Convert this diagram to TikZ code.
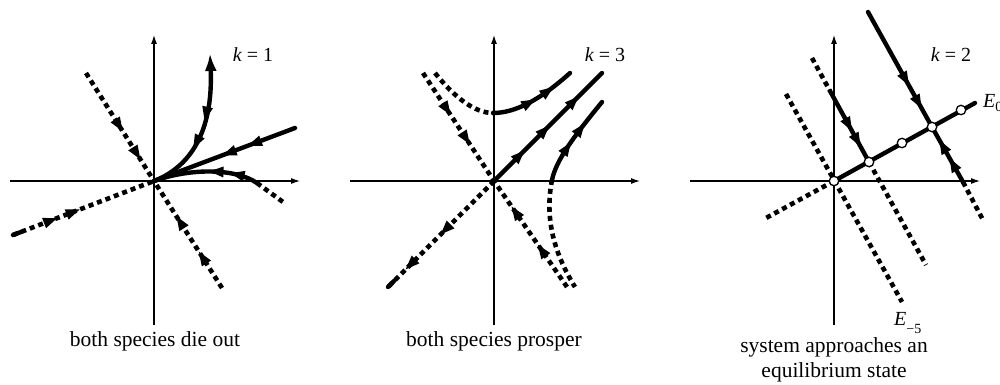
\documentclass[tikz,border=0pt]{standalone}
\usepackage{fontspec}
\setmainfont{Liberation Serif}
\usetikzlibrary{arrows.meta,decorations.markings}
\begin{document}
\begin{tikzpicture}[x=1pt,y=-1pt,
 axis/.style={line width=1.1pt,-{Latex[length=9pt,width=6pt]}},
 sol/.style={line width=4.4pt,line cap=round},
 dot/.style={line width=4.6pt,dash pattern=on 5pt off 4pt},
 ar/.style={postaction={decorate,decoration={markings,mark=at position #1 with {\fill (5pt,0pt) -- (-9pt,5.5pt) -- (-9pt,-5.5pt) -- cycle;}}}},
 eq/.style={circle,draw,fill=white,line width=1.3pt,inner sep=0pt,minimum size=9.5pt},
 lab/.style={font=\fontsize{20}{24}\selectfont,inner sep=0pt},
 captxt/.style={font=\fontsize{21.5}{24}\selectfont,inner sep=0pt,anchor=base},
]
\useasboundingbox (0,0) rectangle (1000,385);
% ---------- panel 1 ----------
\coordinate (O1) at (154,181);
\coordinate (a1) at (154,325); \coordinate (a2) at (154,35);
\coordinate (a3) at (10,181);  \coordinate (a4) at (300,181);
\draw[axis] (a1) -- (a2);
\draw[axis] (a3) -- (a4);
\draw[dot,ar=0.5,ar=0.76] (86,73) -- (O1);
\draw[dot,ar=0.3,ar=0.63] (222,288) -- (O1);
\draw[dot,ar=0.28,ar=0.44] (13,235) -- (O1);
\draw[sol] (13,235) -- (21,232);
\draw[sol,{Latex[length=18pt,width=12pt]}-,ar=0.42,ar=0.62] (210,53) .. controls (213,125) and (195,165) .. (O1);
\draw[sol,ar=0.3,ar=0.48] (295,128) -- (O1);
\draw[sol,ar=0.22,ar=0.42] (257,183) .. controls (235,168) and (190,168) .. (O1);
\draw[dot] (257,183) -- (283,202);
\node[lab] (k1) at (253,55) {\textit{k} = 1};
\node[captxt] (c1) at (155,346) {both species die out};
% ---------- panel 2 ----------
\coordinate (O2) at (494,181);
\coordinate (b1) at (494,325); \coordinate (b2) at (494,35);
\coordinate (b3) at (350,181); \coordinate (b4) at (640,181);
\draw[axis] (b1) -- (b2);
\draw[axis] (b3) -- (b4);
\draw[sol,ar=0.25,ar=0.48,ar=0.75] (O2) -- (602,73);
\draw[dot,ar=0.47,ar=0.8] (O2) -- (388,287);
\draw[sol] (388,287) -- (394,281);
\draw[dot,ar=0.35,ar=0.62] (423,73) -- (O2);
\draw[dot,ar=0.36,ar=0.72] (567,287) -- (O2);
\draw[dot] (435,73) .. controls (455,98) and (475,113) .. (493,113);
\draw[sol,ar=0.45,ar=0.7] (493,113) .. controls (515,113) and (540,100) .. (570,73);
\draw[sol,ar=0.4,ar=0.65] (552,180) .. controls (556,160) and (575,135) .. (602,102);
\draw[dot] (552,180) .. controls (545,215) and (552,250) .. (575,287);
\node[lab] (k3) at (605,55) {\textit{k} = 3};
\node[captxt] (c2) at (494,346) {both species prosper};
% ---------- panel 3 ----------
\coordinate (O3) at (834,181);
\coordinate (d1) at (834,325); \coordinate (d2) at (834,35);
\coordinate (d3) at (690,181); \coordinate (d4) at (980,181);
\draw[axis] (d1) -- (d2);
\draw[axis] (d3) -- (d4);
\draw[dot] (O3) -- (766,218);
\draw[dot] (786,94) -- (902,302);
\draw[dot] (812,58) -- (830,91);
\draw[sol,ar=0.5,ar=0.72] (830,91) -- (869,162);
\draw[dot] (869,162) -- (926,265);
\draw[sol,ar=0.6,ar=0.8] (868,12) -- (932,127);
\draw[sol,ar=0.35,ar=0.68] (963,182) -- (932,127);
\draw[dot] (963,182) -- (983,220);
\draw[sol] (O3) -- (975,103);
\node[eq] (e1) at (O3) {};
\node[eq] (e2) at (869,162) {};
\node[eq] (e3) at (902,143) {};
\node[eq] (e4) at (932,127) {};
\node[eq] (e5) at (961,110) {};
\node[lab,anchor=base west] (E0) at (983,107) {\textit{E}\raisebox{-4pt}{\fontsize{14}{16}\selectfont 0}};
\node[lab,anchor=base west] (E5) at (894,325) {\textit{E}\raisebox{-8pt}{\fontsize{14}{16}\selectfont −5}};
\node[lab] (k2) at (951,55) {\textit{k} = 2};
\node[captxt] (c3a) at (834,352) {system approaches an};
\node[captxt] (c3b) at (834,377) {equilibrium state};
\end{tikzpicture}
\end{document}
